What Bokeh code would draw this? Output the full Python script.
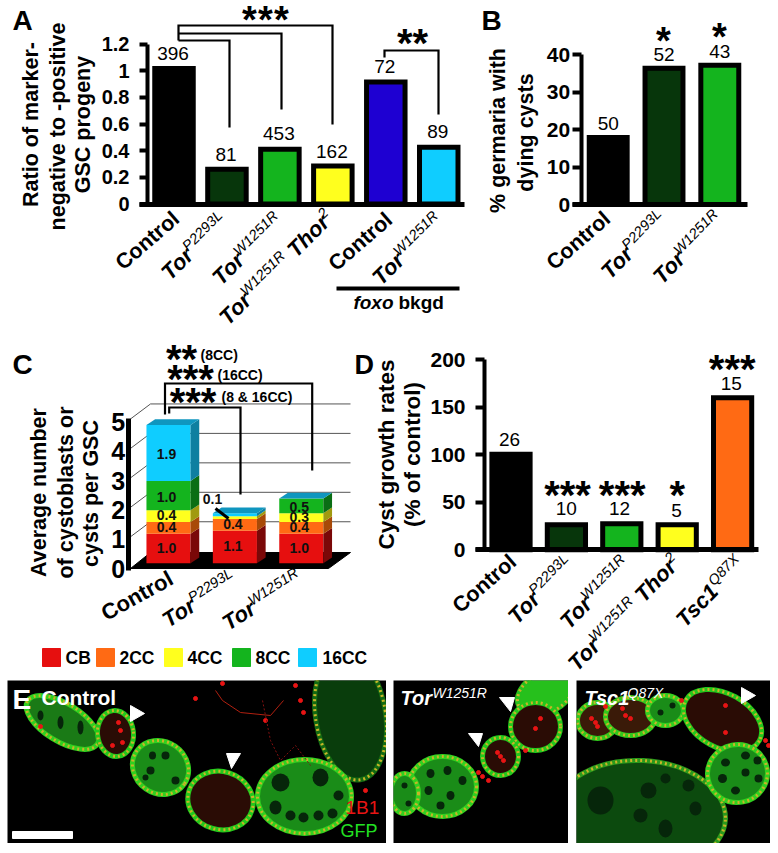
import math
from bokeh.plotting import figure
from bokeh.layouts import column, row
from bokeh.models import Range1d, LinearAxis, FixedTicker, Label, Spacer
from bokeh.embed import file_html
from bokeh.resources import INLINE

FONT = "Liberation Sans"
BLACK = "#000000"
DKGREEN = "#07360b"
GREEN = "#14b41e"
YELLOW = "#ffff1e"
BLUE = "#1e00d2"
CYAN = "#0fcdff"
ORANGE = "#ff6a14"
RED = "#e60f0f"

# Panel A
A_VALUES = [1.016, 0.26, 0.41, 0.285, 0.915, 0.425]
A_COUNTS = ["396", "81", "453", "162", "72", "89"]
A_COLORS = [BLACK, DKGREEN, GREEN, YELLOW, BLUE, CYAN]
A_TICKS = {0: "0", 0.2: "0.2", 0.4: "0.4", 0.6: "0.6", 0.8: "0.8", 1: "1", 1.2: "1.2"}
# Panel B
B_VALUES = [17.9, 36.4, 37.2]
B_COUNTS = ["50", "52", "43"]
B_COLORS = [BLACK, DKGREEN, GREEN]
B_TICKS = [0, 10, 20, 30, 40]
# Panel C
C_SERIES = ["CB", "2CC", "4CC", "8CC", "16CC"]
C_CB = [1.0, 1.1, 1.0]
C_2CC = [0.4, 0.4, 0.4]
C_4CC = [0.4, 0.1, 0.3]
C_8CC = [1.0, 0.0, 0.5]
C_16CC = [1.9, 0.1, 0.0]
C_FRONT = [RED, ORANGE, YELLOW, GREEN, CYAN]
C_SIDE = ["#7a0808", "#a84a08", "#a09a10", "#0a6e14", "#0e7fa0"]
C_TOP = "#0f96bf"
C_TICKS = [0, 1, 2, 3, 4, 5]
# Panel D
D_VALUES = [100.5, 26.4, 27.5, 26.4, 160.0]
D_COUNTS = ["26", "10", "12", "5", "15"]
D_COLORS = [BLACK, DKGREEN, GREEN, YELLOW, ORANGE]
D_TICKS = [0, 50, 100, 150, 200]

BW = {"C": .722, "o": .611, "n": .611, "t": .333, "r": .30, "l": .278, "T": .611, "h": .611, "s": .556, "c": .556,
      "1": .556, " ": .278}
SW = {"P": .667, "W": .944, "R": .722, "L": .556, "Q": .778, "X": .667, "2": .556, "5": .556, "9": .556, "3": .556,
      "1": .556, "8": .556, "7": .556}


def txtw(s, size, table):
    return sum(table.get(ch, .556) for ch in s) * size


class Panel:
    def __init__(self, L, T, W, H, ox, oy, sx, sy):
        self.L, self.T, self.ox, self.oy, self.sx, self.sy = L, T, ox, oy, sx, sy
        self.p = figure(width=W, height=H, min_border=0, x_axis_location=None, y_axis_location=None,
                        x_range=Range1d((L - ox) / sx, (L + W - ox) / sx),
                        y_range=Range1d((oy - T - H) / sy, (oy - T) / sy),
                        output_backend="svg", toolbar_location=None, outline_line_color=None)
        self.p.grid.visible = False

    def X(self, px):
        return (px - self.ox) / self.sx

    def Y(self, py):
        return (self.oy - py) / self.sy

    def text(self, px, py, s, size, style="normal", color="black", angle=0, align="center"):
        self.p.add_layout(Label(x=self.X(px), y=self.Y(py), text=s, text_font=FONT, text_font_size=f"{size}px",
                                text_font_style=style, text_color=color, angle=angle, angle_units="deg",
                                text_align=align, text_baseline="middle"))

    def stars(self, cx, cy, n, size=40, align="center"):
        self.text(cx, cy + .10 * size, "*" * n, size, "bold", align=align)

    def poly(self, pts, width=2.2, color="black"):
        self.p.line([self.X(a) for a, _ in pts], [self.Y(b) for _, b in pts], line_color=color, line_width=width,
                    line_join="miter")

    def xlabel(self, sx_, sy_, parts, angle, base=22, sup=14.5):
        """parts: (text, kind); kind b=bold, i=bold italic, s=superscript, g=gap. (sx_, sy_) = start of the baseline."""
        a = math.radians(angle)
        ux, uy = -math.sin(a), -math.cos(a)  # "up" of the rotated text
        x, y = sx_, sy_
        for s, kind in parts:
            if kind == "g":
                w = s
            elif kind == "s":
                lift = base * .62
                self.text(x + ux * lift, y + uy * lift, s, sup, "italic", angle=angle, align="left")
                w = txtw(s, sup, SW)
            else:
                lift = base * .35
                self.text(x + ux * lift, y + uy * lift, s, base, "bold italic" if kind == "i" else "bold",
                          angle=angle, align="left")
                w = txtw(s, base, BW)
            x += math.cos(a) * w
            y -= math.sin(a) * w


def axes(pan, ticks, labels, ax_px, bounds, x0_px, x1_px, size, tick_out, standoff, ylw=4, xlw=5):
    y = LinearAxis(fixed_location=pan.X(ax_px), ticker=FixedTicker(ticks=ticks), bounds=bounds,
                   axis_line_width=ylw, major_tick_line_width=4, major_tick_out=tick_out, major_tick_in=0,
                   minor_tick_line_color=None, major_label_text_font=FONT, major_label_text_font_style="bold",
                   major_label_text_font_size=f"{size}px", major_label_standoff=standoff,
                   major_label_overrides=labels, major_label_text_color="black", axis_line_cap="butt")
    pan.p.add_layout(y, "left")
    x = LinearAxis(fixed_location=0, ticker=FixedTicker(ticks=[]), bounds=(pan.X(x0_px), pan.X(x1_px)),
                   axis_line_width=xlw, major_tick_line_color=None, minor_tick_line_color=None,
                   major_label_text_color=None)
    pan.p.add_layout(x, "below")


def bars(pan, values, colors, width):
    xs = list(range(len(values)))
    pan.p.vbar(x=xs, top=values, bottom=0, width=width, fill_color=colors, line_color="black", line_width=5,
               line_join="miter")


CTRL = [("Control", "b")]
TP = [("Tor", "i"), ("P2293L", "s")]
TW = [("Tor", "i"), ("W1251R", "s")]
TWT = [("Tor", "i"), ("W1251R", "s"), (6, "g"), ("Thor", "i"), ("2", "s")]
TSC = [("Tsc1", "i"), ("Q87X", "s")]

ROW1 = 336
ROW2 = 344
SPLIT2 = 374

# ---------- A
A = Panel(0, 0, 472, ROW1, 173.5, 203.5, 52.95, 133.3)
bars(A, A_VALUES, A_COLORS, 0.727)
axes(A, sorted(A_TICKS), A_TICKS, 147, (0, 1.2), 139, 464, 20, 8, 10)
A.text(12, 20, "A", 28, "bold", align="left")
for ln, xx, yy in [("Ratio of marker-", 30, 124), ("negative  to -positive", 57, 123), ("GSC progeny", 82, 124)]:
    A.text(xx, yy, ln, 21.5, "bold", angle=90)
for i, (c, yy) in enumerate(zip(A_COUNTS, [53, 154, 133, 151, 66, 131])):
    A.text(173.5 + 52.95 * i - 1, yy, c, 19)
A.poly([(178, 40), (178, 25), (332, 25), (332, 124)])
A.poly([(178, 33), (281, 33), (281, 109)])
A.poly([(178, 40), (229, 40), (229, 127)])
A.poly([(384, 57), (384, 50), (438, 50), (438, 114)])
for sx_ in (249, 265, 281):
    A.stars(sx_, 16, 1, 38)
A.stars(412, 38, 2, 40)
A.xlabel(123, 271, CTRL, 41, 21.5)
A.xlabel(170, 281, TP, 45)
A.xlabel(221, 286, TW, 45)
A.xlabel(228, 326, TWT, 45)
A.xlabel(336, 272, CTRL, 41, 21.5)
A.xlabel(381, 286, TW, 45)
A.poly([(336, 288), (459, 288)], 4)
A.text(393, 302, "foxo", 19, "bold italic", align="right")
A.text(398, 302, "bkgd", 19, "bold", align="left")

# ---------- B
B = Panel(472, 0, 298, ROW1, 607.7, 204, 55.8, 3.74)
bars(B, B_VALUES, B_COLORS, 0.68)
axes(B, B_TICKS, {t: str(t) for t in B_TICKS}, 580.7, (0, 40), 572, 747, 21, 9, 2)
B.text(481, 20, "B", 28, "bold", align="left")
B.text(497, 130, "% germaria with", 21.5, "bold", angle=90)
B.text(525, 132, "dying cysts", 21.5, "bold", angle=90)
for i, (c, yy) in enumerate(zip(B_COUNTS, [123, 54, 51])):
    B.text(607.7 + 55.8 * i, yy, c, 19)
B.stars(663, 37, 1, 38)
B.stars(719, 33, 1, 38)
B.xlabel(554, 271, CTRL, 41, 21.5)
B.xlabel(610, 280, TP, 46)
B.xlabel(662, 285, TW, 46)

# ---------- C
C = Panel(0, ROW1, SPLIT2, ROW2, 168, 562.7, 66.4, 29.4)
cp = C.p
cp.extra_y_ranges = {"front": Range1d((568 - ROW1 - ROW2) / 29.3, (568 - ROW1) / 29.3)}
for k in range(1, 6):
    by = 550.7 - (k) * 29.45
    C.poly([(150, by), (350, by)], 1, "#555555")
    C.poly([(130, by + 15), (150, by)], 1, "#555555")
cp.patch([C.X(a) for a in (130, 150, 350, 328)], [C.Y(b) for b in (568, 552, 552, 568)], color="black")
C_STACK = [C_CB, C_2CC, C_4CC, C_8CC, C_16CC]
DX, DY = 8.7 / 66.4, 5.8 / 29.4
HW = 0.332
cum = [0.0, 0.0, 0.0]
for vals, fc, sc in zip(C_STACK, C_FRONT, C_SIDE):
    tops = [c + v for c, v in zip(cum, vals)]
    cp.vbar(x=[0, 1, 2], bottom=cum, top=tops, width=HW * 2, fill_color=fc, line_color=None)
    cp.patches([[i + HW, i + HW + DX, i + HW + DX, i + HW] for i in range(3)],
               [[b, b + DY, t + DY, t] for b, t in zip(cum, tops)], fill_color=sc, line_color=None)
    cum = tops
cp.patches([[i - HW, i - HW + DX, i + HW + DX, i + HW] for i in range(3)],
           [[t, t + DY, t + DY, t] for t in cum], fill_color=C_TOP, line_color=None)
yax = LinearAxis(y_range_name="front", fixed_location=C.X(127.7), ticker=FixedTicker(ticks=C_TICKS), bounds=(-0.07, 5.12),
                 axis_line_width=5, major_tick_line_color=None, minor_tick_line_color=None, major_tick_out=0,
                 major_tick_in=0, major_label_standoff=3, major_label_text_font=FONT,
                 major_label_text_font_style="bold", major_label_text_font_size="25px", major_label_text_color="black",
                 major_label_overrides={t: str(t) for t in C_TICKS})
cp.add_layout(yax, "left")
base = [0.0, 0.0, 0.0]
for s, vals in enumerate(C_STACK):
    for i, v in enumerate(vals):
        if v > 0 and not (i == 1 and s in (2, 4)):
            C.text(168 + 66.4 * i - 2, C.oy - (base[i] + v / 2) * 29.4 - 1 + (2 if s >= 3 else 0), f"{v:.1f}", 14, "bold", "#101010")
        base[i] += v
C.text(212, 498, "0.1", 14, "bold", "#101010")
C.poly([(215, 508), (228, 518)], 3)
C.text(12, 364, "C", 28, "bold", align="left")
C.text(354, 364, "D", 27, "bold", align="left")
for ln, xx, yy in [("Average number", 38, 492), ("of cystoblasts or", 65, 492), ("cysts per GSC", 90, 493)]:
    C.text(xx, yy, ln, 21.5, "bold", angle=90)
C.stars(181, 354, 2, 40)
C.text(200, 354, "(8CC)", 14, "bold", align="left")
C.stars(190, 374, 3, 40)
C.text(217, 374, "(16CC)", 14, "bold", align="left")
C.stars(192.5, 397, 3, 40)
C.text(221, 396, "(8 & 16CC)", 14, "bold", align="left")
C.poly([(164.5, 414), (164.5, 383), (311.7, 383), (311.7, 470)])
C.poly([(168.7, 413), (168.7, 407), (240, 407), (240, 494)])
C.xlabel(106, 621, CTRL, 29, 22)
C.xlabel(168, 628, TP, 33)
C.xlabel(228, 631, TW, 33)
# legend
for name, col, sqx, tx in zip(C_SERIES, C_FRONT, [42, 96, 164, 232, 298], [65, 119, 187, 255, 322]):
    cp.patch([C.X(a) for a in (sqx, sqx + 18, sqx + 18, sqx)], [C.Y(b) for b in (648, 648, 666, 666)], color=col)
    C.text(tx, 657.5, name, 17.5, "bold", align="left")

# ---------- D
D = Panel(SPLIT2, ROW1, 770 - SPLIT2, ROW2, 510.5, 549.3, 55.4, 0.95)
bars(D, D_VALUES, D_COLORS, 0.69)
axes(D, D_TICKS, {t: str(t) for t in D_TICKS}, 484, (0, 200), 475, 758, 21, 9, 10)
D.text(386, 454, "Cyst growth rates", 22.5, "bold", angle=90)
D.text(412, 454, "(% of control)", 22.5, "bold", angle=90)
for cx, yy, c in zip([509, 565.7, 619, 676, 730.7], [439, 508, 508, 510, 382.7], D_COUNTS):
    D.text(cx, yy, c, 19)
D.stars(567, 490, 3, 40)
D.stars(621.7, 490, 3, 40)
D.stars(676.7, 490, 1, 40)
D.stars(731.7, 364, 3, 40)
D.xlabel(460, 614, CTRL, 41, 21.5)
D.xlabel(517, 625, TP, 46)
D.xlabel(569, 630, TW, 46)
D.xlabel(577, 672, TWT, 46)
D.xlabel(685, 628, TSC, 46)

# ---------- E micrographs (stylised)
# chamber: cx, cy, width, height, angle, kind
E1_CHAMBERS = [(350, 715, 70, 130, 0.15, "haze"),
               (62, 722, 82, 38, -0.55, "early"),
               (115, 733, 36, 46, 0.1, "dark"),
               (160, 767, 58, 52, -0.6, "green"),
               (220, 800, 66, 58, -0.3, "dark"),
               (304, 796, 94, 74, 0, "green")]
E1_NUCLEI = [(40, 715, 6, 10), (60, 722, 6, 13), (80, 727, 6, 14), (165, 755, 8, 8), (152, 755, 7, 8), (150, 770, 8, 8),
             (175, 780, 8, 8), (145, 777, 6, 6), (280, 782, 18, 18), (320, 777, 16, 18), (275, 807, 12, 14),
             (290, 815, 10, 10), (303, 817, 10, 10), (318, 815, 10, 10), (332, 813, 10, 10), (338, 795, 10, 10)]
E1_REDS = [(195, 698), (222, 683), (265, 720), (303, 712), (40, 726), (120, 730), (112, 745), (122, 742), (365, 790),
           (300, 700), (295, 685), (118, 722)]
E2_CHAMBERS = [(545, 692, 60, 40, 0.5, "bright"),
               (535, 726, 50, 48, 0, "dark"),
               (500, 756, 36, 38, 0, "dark"),
               (442, 786, 68, 60, 0, "green"),
               (404, 793, 28, 40, 0, "green")]
E2_NUCLEI = [(430, 773, 8, 9), (447, 770, 8, 9), (462, 780, 8, 9), (428, 790, 8, 9), (450, 795, 8, 9), (440, 805, 8, 8),
             (404, 785, 6, 6), (408, 803, 6, 6)]
E2_REDS = [(500, 756), (497, 752), (503, 760), (540, 718), (535, 728), (488, 780), (482, 776), (525, 750), (478, 772)]
E3_CHAMBERS = [(640, 815, 170, 110, -0.05, "haze2"),
               (597, 720, 40, 36, 0, "mixed"),
               (630, 716, 50, 38, 0, "mixed"),
               (665, 710, 36, 30, 0, "green"),
               (722, 720, 84, 54, -0.5, "dark"),
               (737, 773, 60, 58, 0.2, "green")]
E3_NUCLEI = [(600, 800, 26, 28), (648, 790, 16, 16), (665, 778, 10, 10), (688, 785, 12, 12), (695, 808, 12, 14),
             (665, 828, 14, 18), (640, 815, 14, 14), (725, 762, 9, 8), (745, 755, 9, 8), (757, 760, 8, 8),
             (722, 778, 9, 9), (745, 772, 8, 8), (758, 778, 8, 8), (735, 790, 9, 8), (660, 712, 6, 6), (672, 705, 6, 6)]
E3_REDS = [(595, 722), (597, 726), (591, 718), (625, 715), (630, 718), (622, 708), (681, 700), (765, 740), (768, 745),
           (725, 732), (725, 705), (605, 706)]
E_STYLE = {"dark": ("#2a0c05", "#22c81c"), "green": ("#1a8c18", "#30d020"), "early": ("#1a7a16", "#30d020"),
           "haze": ("#093d0c", "#126a12"), "haze2": ("#0c4a0e", "#2a9a1c"), "bright": ("#26c01c", "#26c01c"),
           "mixed": ("#3a1a08", "#30c81c")}


def micrograph(L, W, chambers, nuclei, reds):
    p = figure(width=W, height=163, min_border=0, x_axis_location=None, y_axis_location=None,
               x_range=Range1d(L, L + W), y_range=Range1d(843, 680), output_backend="svg", toolbar_location=None,
               background_fill_color="black", outline_line_color=None)
    p.grid.visible = False
    for cx, cy, w, h, ang, kind in chambers:
        fc, lc = E_STYLE[kind]
        p.ellipse(x=[cx], y=[cy], width=[w], height=[h], angle=[ang], fill_color=fc, line_color=lc, line_width=5)
        p.ellipse(x=[cx], y=[cy], width=[w], height=[h], angle=[ang], fill_color=None, line_color="#c8b428",
                  line_width=3, line_dash="2 3")
    p.ellipse(x=[n[0] for n in nuclei], y=[n[1] for n in nuclei], width=[n[2] for n in nuclei],
              height=[n[3] for n in nuclei], fill_color="#06260a", line_color=None)
    p.scatter(x=[r[0] for r in reds], y=[r[1] for r in reds], size=4, color="#e81414")
    return p


def etext(p, x, y, s, size, color="white", style="bold"):
    p.add_layout(Label(x=x, y=y, text=s, text_font=FONT, text_font_size=f"{size}px", text_font_style=style,
                       text_color=color, text_baseline="middle", text_align="left"))


def arrow(p, pts):
    p.patch([a for a, _ in pts], [b for _, b in pts], color="white")


e1 = micrograph(7, 379, E1_CHAMBERS, E1_NUCLEI, E1_REDS)
arrow(e1, [(130, 705), (144, 713), (130, 721)])
arrow(e1, [(226, 753), (240, 753), (231, 768)])
e1.line([215, 222, 240, 270, 283], [690, 700, 712, 715, 700], line_color="#b02010", line_width=1)
e1.line([262, 270, 280, 295, 310], [700, 740, 760, 745, 765], line_color="#801010", line_width=1, line_dash="2 2")
etext(e1, 12, 699, "E", 28)
etext(e1, 41, 697, "Control", 21)
etext(e1, 345, 807, "1B1", 19, "#e81414", "normal")
etext(e1, 340, 830, "GFP", 18, "#22e022", "normal")
e1.quad(left=[12], right=[72], top=[831], bottom=[838], color="white")

e2 = micrograph(393, 175, E2_CHAMBERS, E2_NUCLEI, E2_REDS)
arrow(e2, [(499, 697), (514, 697), (510, 711)])
arrow(e2, [(468, 733), (482, 733), (478, 746)])
etext(e2, 400, 697, "Tor", 20, "white", "bold italic")
etext(e2, 432, 692, "W1251R", 14, "white", "italic")

e3 = micrograph(576, 194, E3_CHAMBERS, E3_NUCLEI, E3_REDS)
arrow(e3, [(741, 687), (755, 695), (741, 703)])
etext(e3, 584, 697, "Tsc1", 20, "white", "bold italic")
etext(e3, 627, 692, "Q87X", 14, "white", "italic")

page = column(row(A.p, B.p, spacing=0), row(C.p, D.p, spacing=0),
              row(Spacer(width=7), e1, Spacer(width=7), e2, Spacer(width=8), e3, spacing=0), spacing=0)
open("out.html", "w").write(file_html(page, INLINE))
